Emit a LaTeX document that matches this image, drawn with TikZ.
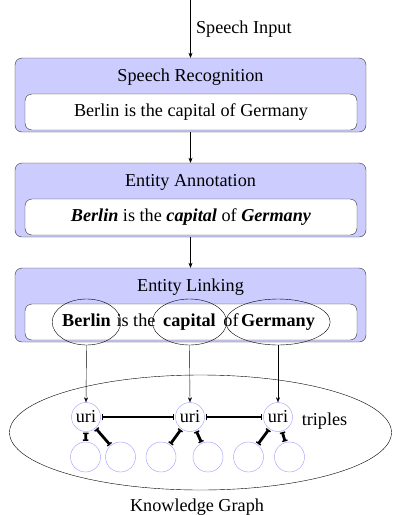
\documentclass[tikz,border=0pt]{standalone}
\usepackage{fontspec}
\setmainfont{Liberation Serif}
\usetikzlibrary{arrows.meta,shapes.geometric}
\begin{document}
\begin{tikzpicture}[x=1pt,y=-1pt,
  font=\fontsize{18.2}{21}\selectfont,
  stage/.style={draw=black!80,fill=blue!20,rounded corners=7pt,minimum width=351pt,minimum height=74pt,inner sep=0pt},
  sentence/.style={draw=black!80,fill=white,rounded corners=7pt,minimum width=332pt,minimum height=36pt,inner sep=0pt},
  flow/.style={-{Stealth[length=5pt,width=4pt]},black},
  word/.style={inner sep=0pt,text height=12.5pt,text depth=4pt},
  ent/.style={word,draw,ellipse,minimum height=46pt,font=\fontsize{18.2}{21}\selectfont\bfseries},
  uri/.style={draw=blue!40,circle,minimum size=29pt,inner sep=0pt},
  leaf/.style={draw=blue!40,circle,minimum size=30pt,inner sep=0pt},
  rel/.style={line width=2.8pt,{Bar[width=5.5pt,line width=1.4pt]}-{Bar[width=5.5pt,line width=1.4pt]},shorten <=1pt,shorten >=1pt}]
\useasboundingbox (0,0) rectangle (392,515);
% stages
\node[stage] (s1) at (190.5,95) {};
\node[sentence] (t1) at (191,112) {Berlin is the capital of Germany};
\node (h1) at (190.5,77) {Speech Recognition};
\node[stage] (s2) at (190.5,200) {};
\node[sentence] (t2) at (191,217) {\textbf{\textit{Berlin}} is the \textbf{\textit{capital}} of \textbf{\textit{Germany}}};
\node (h2) at (190.5,182) {Entity Annotation};
\node[stage] (s3) at (190.5,305) {};
\node[sentence] (t3) at (191,322) {};
\node (h3) at (190.5,287) {Entity Linking};
\node[ent,minimum width=63pt] (e1) at (86.5,322) {Berlin};
\node[word] (w1) at (136,322) {is the};
\node[ent,minimum width=65pt] (e2) at (189.5,322) {capital};
\node[word] (w2) at (231,322) {of};
\node[ent,minimum width=82pt] (e3) at (278,322) {Germany};
% input
\coordinate (in) at (190.5,0);
\draw[flow] (in) -- (s1.north) node[midway,right=2pt] {Speech Input};
\draw[flow] (s1.south) -- (s2.north);
\draw[flow] (s2.south) -- (s3.north);
% knowledge graph
\node[draw,ellipse,minimum width=382pt,minimum height=115pt,inner sep=0pt] (kg) at (200.5,432.5) {};
\node (kgl) at (197,507) {Knowledge Graph};
\node[uri] (u1) at (86,417) {uri};
\node[uri] (u2) at (190,417) {uri};
\node[uri] (u3) at (278,417) {uri};
\node (tr) at (324.5,421) {triples};
\node[leaf] (c1) at (85.5,457) {};
\node[leaf] (c2) at (120.5,457) {};
\node[leaf] (c3) at (161,457) {};
\node[leaf] (c4) at (208,457) {};
\node[leaf] (c5) at (248.5,457) {};
\node[leaf] (c6) at (289.5,457) {};
\draw[flow] (e1.south) -- (u1.north);
\draw[flow] (e2.south) -- (u2.north);
\draw[flow] (e3.south) -- (u3.north);
\draw[rel] (u1) -- (u2);
\draw[rel] (u2) -- (u3);
\draw[rel] (u1) -- (c1);
\draw[rel] (u1) -- (c2);
\draw[rel] (u2) -- (c3);
\draw[rel] (u2) -- (c4);
\draw[rel] (u3) -- (c5);
\draw[rel] (u3) -- (c6);
\end{tikzpicture}
\end{document}
